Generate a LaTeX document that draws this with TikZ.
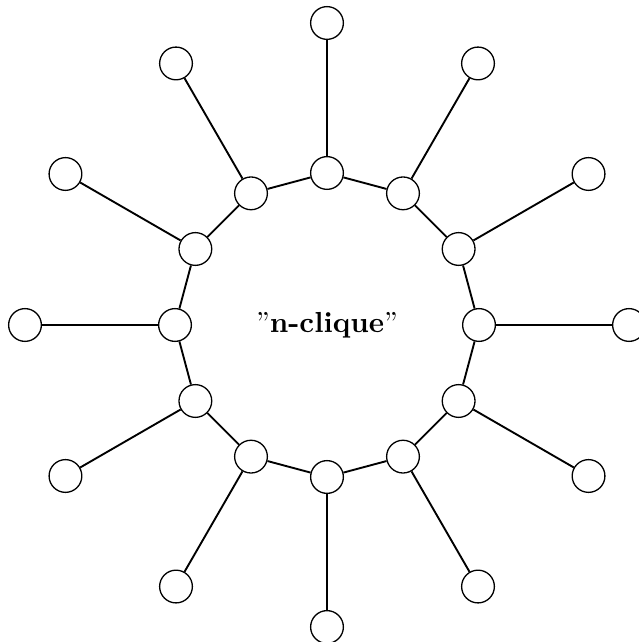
\documentclass[tikz,border=0pt]{standalone}
\usetikzlibrary{calc}
\begin{document}
\begin{tikzpicture}[
    x=0.345pt, y=0.345pt,
    vertex/.style={draw=black, circle, fill=white, minimum size=11.3pt, inner sep=0pt, line width=0.45pt},
    edge/.style={line width=0.65pt}
]
    \useasboundingbox (-327,-317) rectangle (311,325);
    \node[font=\normalsize] (label) at (0,0) {''\textbf{n-clique}''};
    % inner ring and outer leaves
    \foreach \i in {0,...,11} {
        \node[vertex] (in\i) at (\i*30:152) {};
        \node[vertex] (out\i) at (\i*30:302) {};
    }
    \foreach \i [evaluate=\i as \j using {int(mod(\i+1,12))}] in {0,...,11} {
        \draw[edge] (in\i) -- (in\j);
        \draw[edge] (in\i) -- (out\i);
    }
\end{tikzpicture}
\end{document}
